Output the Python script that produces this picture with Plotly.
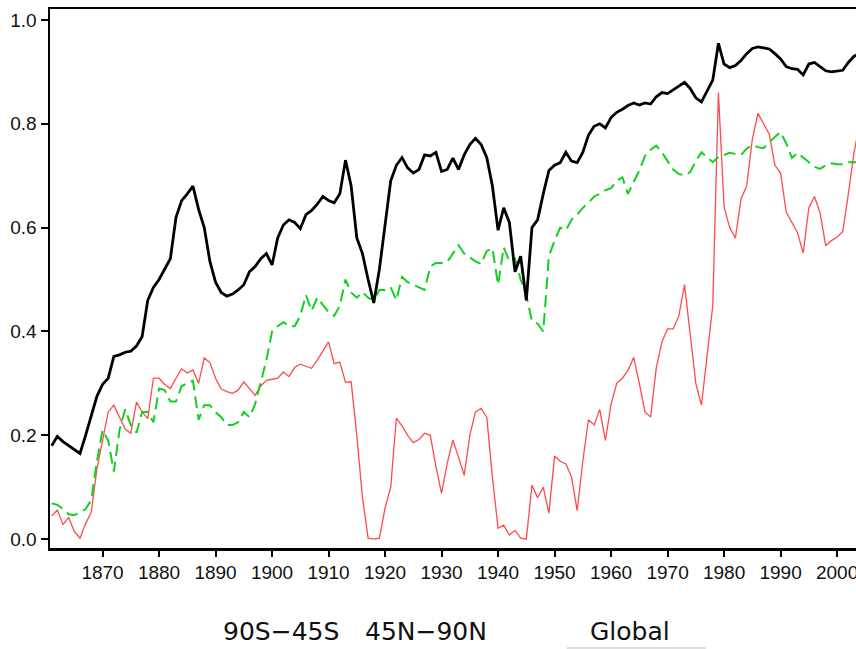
import plotly.graph_objects as go

years = list(range(1861, 2005))

global_vals = [
    0.180, 0.198, 0.188, 0.180, 0.172, 0.165, 0.200, 0.240, 0.275, 0.298,
    0.310, 0.352, 0.355, 0.360, 0.362, 0.372, 0.390, 0.460, 0.485, 0.500,
    0.520, 0.540, 0.620, 0.652, 0.665, 0.680, 0.635, 0.600, 0.535, 0.495,
    0.475, 0.468, 0.472, 0.480, 0.490, 0.515, 0.525, 0.540, 0.550, 0.528,
    0.580, 0.605, 0.615, 0.610, 0.598, 0.625, 0.633, 0.645, 0.660, 0.652,
    0.648, 0.665, 0.730, 0.680, 0.580, 0.550, 0.500, 0.455, 0.520, 0.600,
    0.690, 0.720, 0.735, 0.715, 0.705, 0.712, 0.740, 0.738, 0.745, 0.708,
    0.712, 0.734, 0.712, 0.740, 0.760, 0.772, 0.760, 0.735, 0.680, 0.595,
    0.638, 0.610, 0.515, 0.545, 0.460, 0.600, 0.615, 0.665, 0.710, 0.720,
    0.725, 0.745, 0.728, 0.725, 0.745, 0.778, 0.795, 0.800, 0.792, 0.812,
    0.822, 0.828, 0.835, 0.840, 0.836, 0.840, 0.838, 0.852, 0.860, 0.858,
    0.865, 0.872, 0.880, 0.868, 0.850, 0.842, 0.862, 0.884, 0.955, 0.915,
    0.908, 0.912, 0.922, 0.935, 0.945, 0.948, 0.946, 0.944, 0.935, 0.925,
    0.910, 0.906, 0.905, 0.894, 0.915, 0.918, 0.910, 0.902, 0.900, 0.901,
    0.903, 0.918, 0.930, 0.935,
]

south_vals = [
    0.045, 0.056, 0.028, 0.042, 0.015, 0.002, 0.030, 0.052, 0.135, 0.190,
    0.245, 0.258, 0.235, 0.212, 0.204, 0.264, 0.245, 0.232, 0.310, 0.310,
    0.298, 0.290, 0.310, 0.328, 0.320, 0.326, 0.300, 0.349, 0.340, 0.310,
    0.289, 0.284, 0.281, 0.287, 0.303, 0.290, 0.277, 0.295, 0.306, 0.308,
    0.310, 0.322, 0.313, 0.331, 0.337, 0.333, 0.329, 0.345, 0.362, 0.380,
    0.338, 0.341, 0.302, 0.303, 0.200, 0.080, 0.002, 0.000, 0.002, 0.060,
    0.100, 0.233, 0.218, 0.200, 0.186, 0.192, 0.204, 0.200, 0.140, 0.088,
    0.146, 0.191, 0.158, 0.123, 0.200, 0.245, 0.252, 0.235, 0.120, 0.021,
    0.027, 0.008, 0.017, 0.002, 0.000, 0.104, 0.080, 0.100, 0.050, 0.160,
    0.150, 0.145, 0.120, 0.055, 0.150, 0.230, 0.220, 0.250, 0.190, 0.260,
    0.300, 0.310, 0.325, 0.350, 0.300, 0.245, 0.235, 0.330, 0.380, 0.405,
    0.405, 0.430, 0.490, 0.400, 0.300, 0.258, 0.360, 0.450, 0.860, 0.640,
    0.600, 0.580, 0.655, 0.680, 0.770, 0.820, 0.800, 0.780, 0.720, 0.705,
    0.630, 0.610, 0.590, 0.551, 0.638, 0.660, 0.628, 0.565, 0.575, 0.582,
    0.592, 0.665, 0.745, 0.800,
]

north_vals = [
    0.069, 0.066, 0.058, 0.048, 0.046, 0.052, 0.058, 0.075, 0.150, 0.210,
    0.190, 0.130, 0.210, 0.250, 0.220, 0.205, 0.245, 0.245, 0.225, 0.290,
    0.287, 0.265, 0.265, 0.295, 0.300, 0.305, 0.230, 0.258, 0.258, 0.245,
    0.235, 0.220, 0.220, 0.225, 0.245, 0.235, 0.260, 0.300, 0.345, 0.400,
    0.410, 0.418, 0.410, 0.410, 0.430, 0.470, 0.440, 0.465, 0.450, 0.437,
    0.430, 0.450, 0.500, 0.475, 0.465, 0.476, 0.465, 0.460, 0.480, 0.480,
    0.485, 0.460, 0.505, 0.495, 0.490, 0.485, 0.480, 0.525, 0.532, 0.532,
    0.534, 0.550, 0.566, 0.550, 0.543, 0.535, 0.530, 0.555, 0.560, 0.490,
    0.562, 0.535, 0.540, 0.500, 0.470, 0.420, 0.415, 0.400, 0.545, 0.575,
    0.600, 0.595, 0.615, 0.625, 0.638, 0.648, 0.660, 0.665, 0.672, 0.676,
    0.690, 0.697, 0.665, 0.688, 0.710, 0.738, 0.750, 0.758, 0.745, 0.728,
    0.712, 0.703, 0.701, 0.707, 0.728, 0.745, 0.735, 0.726, 0.736, 0.740,
    0.744, 0.742, 0.740, 0.752, 0.759, 0.755, 0.753, 0.765, 0.775, 0.784,
    0.762, 0.734, 0.744, 0.735, 0.726, 0.717, 0.713, 0.720, 0.724, 0.722,
    0.722, 0.726, 0.726, 0.726,
]

legend_labels = ["90S\u221245S", "45N\u221290N", "Global"]
x_ticks = list(range(1870, 2010, 10))
y_ticks = [0.0, 0.2, 0.4, 0.6, 0.8, 1.0]

fig = go.Figure()
fig.add_trace(go.Scatter(x=years, y=south_vals, mode="lines", name=legend_labels[0],
                         line=dict(color="#ff4a4a", width=1.3)))
fig.add_trace(go.Scatter(x=years, y=north_vals, mode="lines", name=legend_labels[1],
                         line=dict(color="#11d11e", width=2, dash="12px,6px")))
fig.add_trace(go.Scatter(x=years, y=global_vals, mode="lines", name=legend_labels[2],
                         line=dict(color="black", width=2.8)))

fig.update_layout(
    width=856, height=649,
    margin=dict(l=50, r=0, t=9, b=101),
    plot_bgcolor="white", paper_bgcolor="white",
    showlegend=False,
    font=dict(family="Liberation Sans, Arial, sans-serif", size=19, color="#111"),
)
fig.update_xaxes(
    range=[1860.7, 2003.35], tickvals=x_ticks, ticktext=[str(t) for t in x_ticks],
    showgrid=False, zeroline=False, showline=True, linecolor="black", linewidth=2.5,
    mirror=True, ticks="outside", ticklen=6, tickwidth=2, tickcolor="black",
    automargin=False, ticklabeloverflow="allow",
)
fig.update_yaxes(
    range=[-0.017, 1.021], tickvals=y_ticks, ticktext=["%.1f" % v for v in y_ticks],
    showgrid=False, zeroline=False, showline=True, linecolor="black", linewidth=2.5,
    mirror=False, ticks="outside", ticklen=7, tickwidth=2, tickcolor="black",
    automargin=False,
)

centers = [0.2866, 0.4665, 0.7196]
for lab, cx in zip(legend_labels, centers):
    fig.add_annotation(text=lab, x=cx, y=-0.1545, xref="paper", yref="paper",
                       xanchor="center", yanchor="middle", showarrow=False,
                       font=dict(family="DejaVu Sans", size=25, color="#111"))

fig.add_shape(type="line", xref="paper", yref="paper", x0=0.641, x1=0.814,
              y0=-0.1855, y1=-0.1855, line=dict(color="#bbbbbb", width=1))

fig.write_html(
    "out.html",
    config={"displayModeBar": False, "staticPlot": True},
    post_script="document.body.style.margin='0';document.body.style.overflow='hidden';",
)
